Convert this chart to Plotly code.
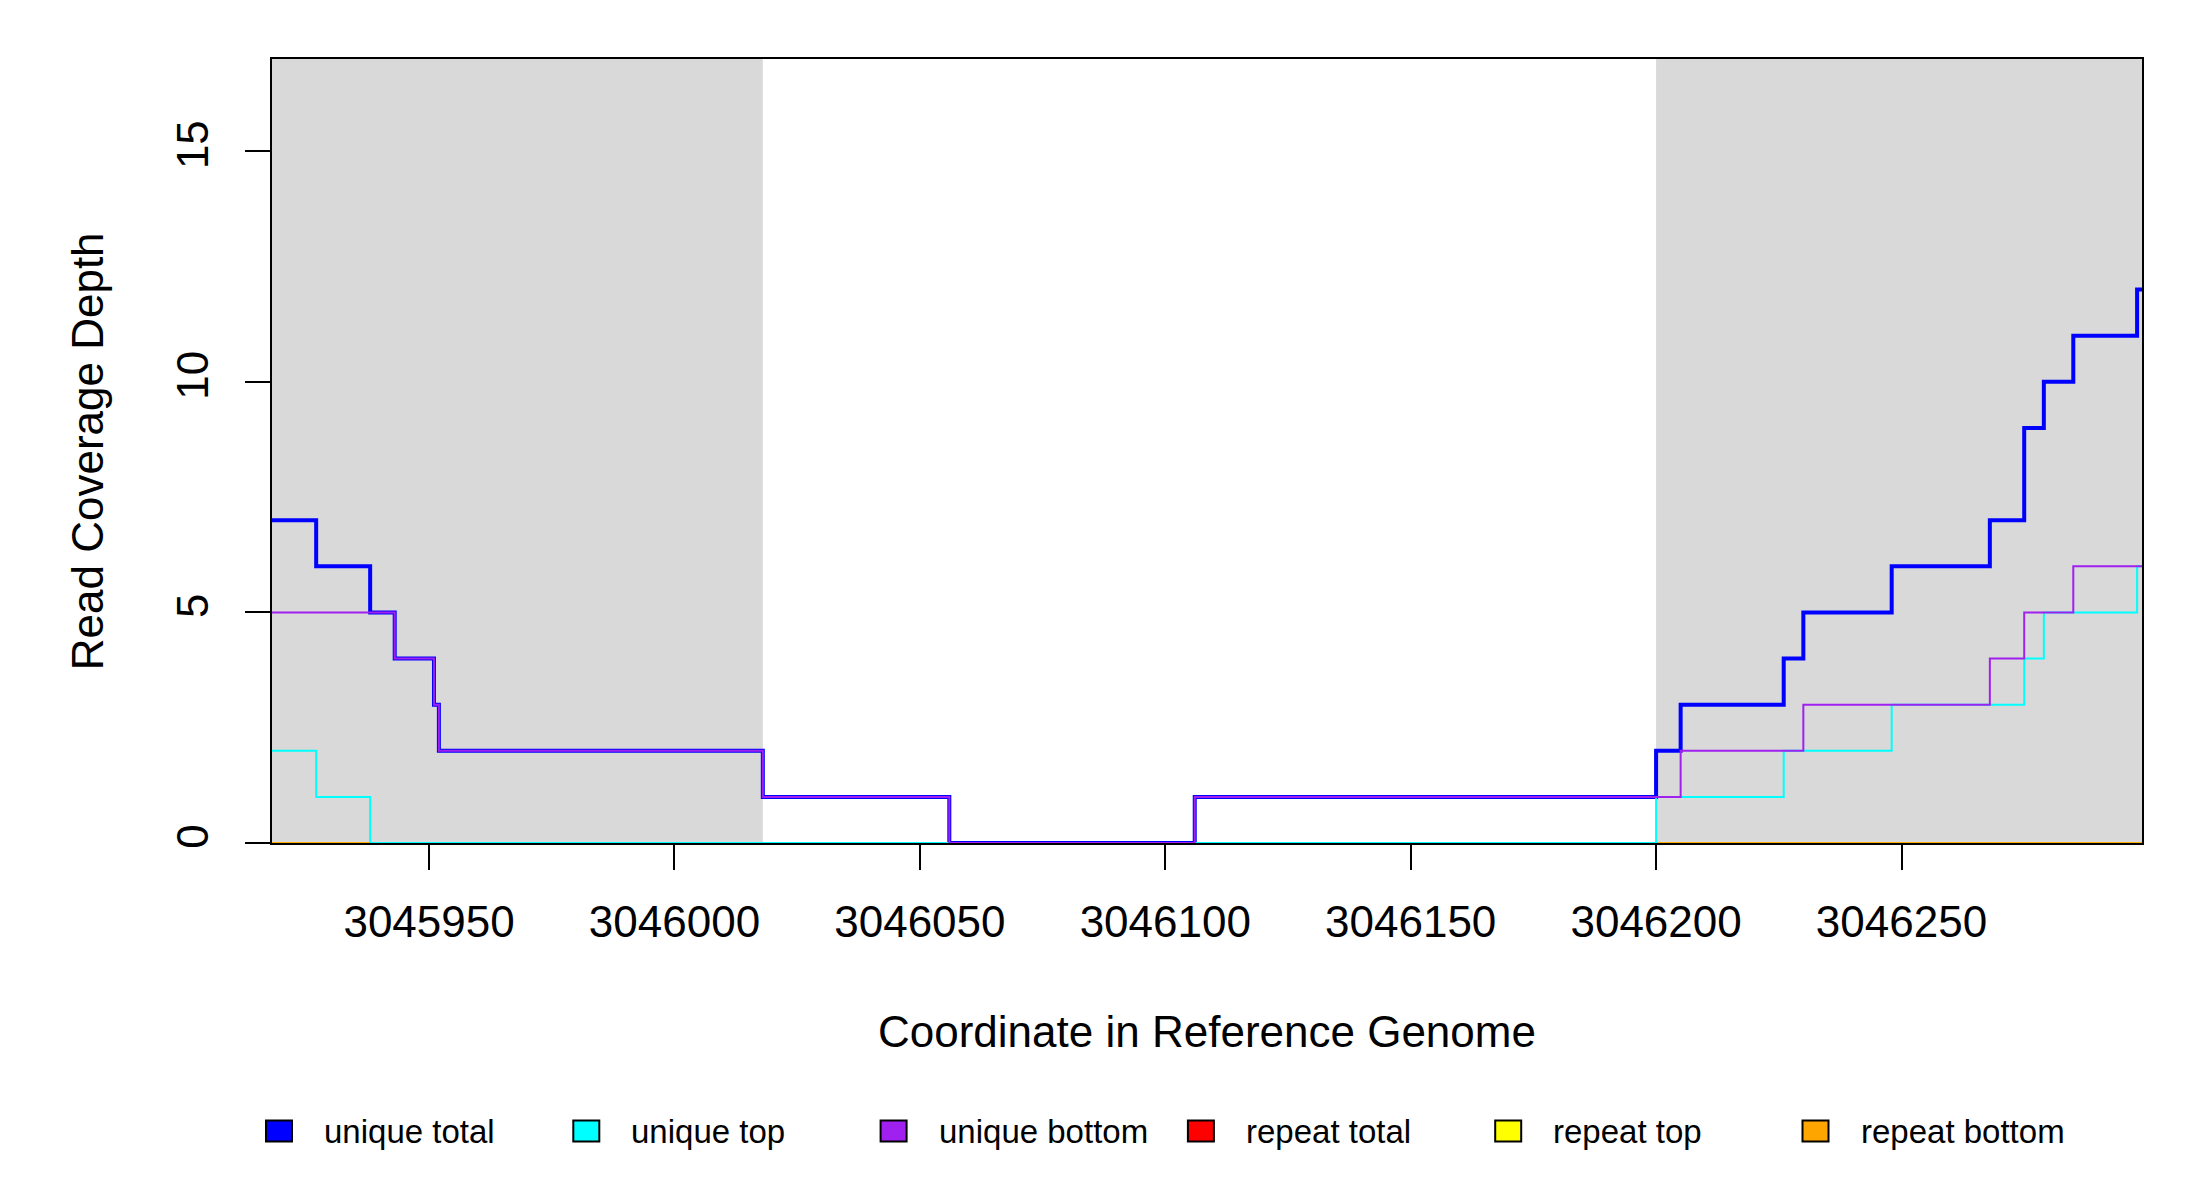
import plotly.graph_objects as go

# Coverage steps: each x is where a new depth level starts (last point closes the step)
unique_total_x = [3045918, 3045927, 3045938, 3045943, 3045951, 3045952, 3046018, 3046056, 3046106,
                  3046200, 3046205, 3046226, 3046230, 3046248, 3046268, 3046275, 3046279, 3046285,
                  3046298, 3046299]
unique_total_y = [7, 6, 5, 4, 3, 2, 1, 0, 1, 2, 3, 4, 5, 6, 7, 9, 10, 11, 12, 12]

unique_top_x = [3045918, 3045927, 3045938, 3046200, 3046226, 3046248, 3046275, 3046279, 3046298, 3046299]
unique_top_y = [2, 1, 0, 1, 2, 3, 4, 5, 6, 6]

unique_bottom_x = [3045918, 3045943, 3045951, 3045952, 3046018, 3046056, 3046106, 3046205, 3046230,
                   3046268, 3046275, 3046285, 3046299]
unique_bottom_y = [5, 4, 3, 2, 1, 0, 1, 2, 3, 4, 5, 6, 6]

repeat_x = [3045918, 3046299]
repeat_total_y = [0, 0]
repeat_top_y = [0, 0]
repeat_bottom_y = [0, 0]

# Flanking regions shaded in grey
shade_start = [3045918, 3046200]
shade_end = [3046018, 3046299]

x_ticks = [3045950, 3046000, 3046050, 3046100, 3046150, 3046200, 3046250]
y_ticks = [0, 5, 10, 15]

legend_labels = ["unique total", "unique top", "unique bottom", "repeat total", "repeat top", "repeat bottom"]
legend_colors = ["#0000FF", "#00FFFF", "#A020F0", "#FF0000", "#FFFF00", "#FFA500"]

FONT = "Liberation Sans, Arial, sans-serif"

# page body has an 8px margin, so the figure is shrunk by that much
PAGE_OFF = 8
W, H = 2200 - PAGE_OFF, 1200 - PAGE_OFF

fig = go.Figure()

# shaded flanks
for x0, x1 in zip(shade_start, shade_end):
    fig.add_vrect(x0=x0, x1=x1, fillcolor="#D9D9D9", line_width=0, layer="below")

# repeat lines first, unique lines drawn on top
series = [
    (repeat_x, repeat_total_y, "#FF0000", 1.5),
    (repeat_x, repeat_top_y, "#FFFF00", 1.5),
    (repeat_x, repeat_bottom_y, "#FFA500", 1.5),
    (unique_total_x, unique_total_y, "#0000FF", 4),
    (unique_top_x, unique_top_y, "#00FFFF", 2),
    (unique_bottom_x, unique_bottom_y, "#A020F0", 2),
]
for xs, ys, col, w in series:
    fig.add_trace(go.Scatter(x=xs, y=ys, mode="lines", line=dict(color=col, width=w, shape="hv"),
                             showlegend=False, hoverinfo="skip"))

# axis titles
fig.add_annotation(text="Coordinate in Reference Genome", xref="paper", yref="paper",
                   x=0.5, y=-0.241, showarrow=False, font=dict(size=44, color="black", family=FONT),
                   xanchor="center", yanchor="middle")
fig.add_annotation(text="Read Coverage Depth", xref="paper", yref="paper",
                   x=-0.0988, y=0.5, textangle=-90, showarrow=False,
                   font=dict(size=44, color="black", family=FONT), xanchor="center", yanchor="middle")

# legend drawn R-style below the plot
plot_l, plot_r = 272 - PAGE_OFF, 2142 - PAGE_OFF
plot_t, plot_b = 59 - PAGE_OFF, 843 - PAGE_OFF
pw, ph = plot_r - plot_l, plot_b - plot_t
first_cx, step_px, leg_y = 279 - PAGE_OFF, 307.3, 1131 - PAGE_OFF


def fx(px):
    return (px - plot_l) / pw


def fy(py):
    return (plot_b - py) / ph


for i, (lab, col) in enumerate(zip(legend_labels, legend_colors)):
    cx = first_cx + i * step_px
    fig.add_shape(type="rect", xref="paper", yref="paper",
                  x0=fx(cx - 13), x1=fx(cx + 13), y0=fy(leg_y + 10.5), y1=fy(leg_y - 10.5),
                  fillcolor=col, line=dict(color="black", width=2))
    fig.add_annotation(text=lab, xref="paper", yref="paper", x=fx(cx + 43), y=fy(leg_y),
                       xanchor="left", yanchor="middle", showarrow=False,
                       font=dict(size=33, color="black", family=FONT))

fig.update_xaxes(range=[3045918, 3046299], tickvals=x_ticks, tickformat="d",
                 ticks="outside", ticklen=25, tickwidth=2, tickcolor="black",
                 showline=True, mirror=True, linecolor="black", linewidth=1.5,
                 showgrid=False, zeroline=False, ticklabelstandoff=14,
                 tickfont=dict(size=44, color="black", family=FONT))
fig.update_yaxes(range=[0, 17], tickvals=y_ticks, tickangle=-90,
                 ticks="outside", ticklen=25, tickwidth=2, tickcolor="black",
                 showline=True, mirror=True, linecolor="black", linewidth=1.5,
                 showgrid=False, zeroline=False, ticklabelstandoff=20,
                 tickfont=dict(size=44, color="black", family=FONT))

fig.update_layout(width=W, height=H, margin=dict(l=plot_l, r=W - plot_r, t=plot_t, b=H - plot_b),
                  plot_bgcolor="white", paper_bgcolor="white", showlegend=False,
                  font=dict(family=FONT, color="black"))

fig.write_html("out.html")
